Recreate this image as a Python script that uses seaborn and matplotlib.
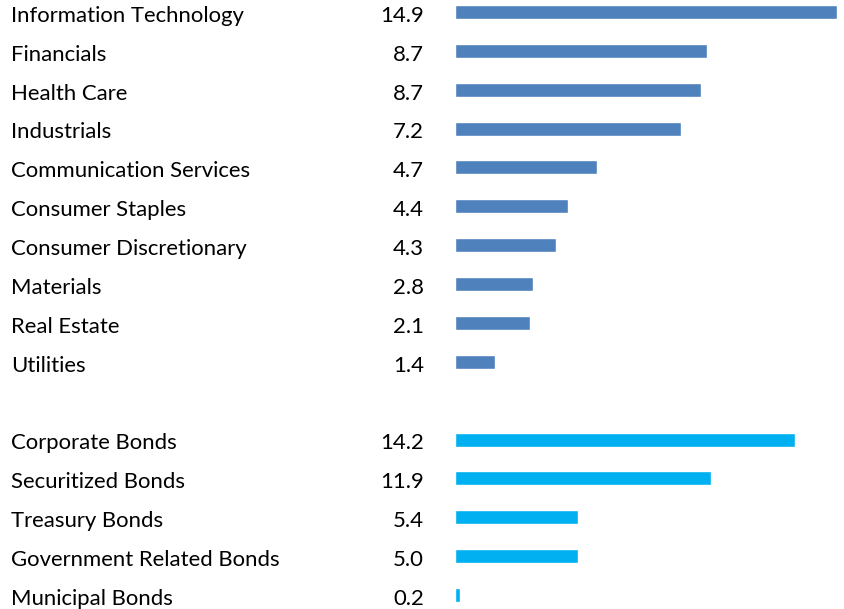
import pandas as pd
import matplotlib
matplotlib.use("Agg")
import matplotlib.pyplot as plt
import matplotlib.transforms as mtransforms
import seaborn as sns

sns.set_style("white")
plt.rcParams["font.family"] = ["Lato", "DejaVu Sans"]

equity_names = ["Information Technology", "Financials", "Health Care", "Industrials",
                "Communication Services", "Consumer Staples", "Consumer Discretionary",
                "Materials", "Real Estate", "Utilities"]
equity_labels = ["14.9", "8.7", "8.7", "7.2", "4.7", "4.4", "4.3", "2.8", "2.1", "1.4"]
# bar lengths as drawn (they do not follow the printed numbers exactly)
equity_bars = [14.9, 9.82, 9.60, 8.80, 5.53, 4.40, 3.95, 3.05, 2.93, 1.59]

bond_names = ["Corporate Bonds", "Securitized Bonds", "Treasury Bonds",
              "Government Related Bonds", "Municipal Bonds"]
bond_labels = ["14.2", "11.9", "5.4", "5.0", "0.2"]
bond_bars = [13.27, 9.98, 4.79, 4.79, 0.20]

blue = "#4F81BD"
cyan = "#00B0F0"

spacer = " "
order = equity_names + [spacer] + bond_names
df = pd.DataFrame({
    "name": equity_names + bond_names,
    "bar": equity_bars + bond_bars,
    "group": ["equity"] * len(equity_names) + ["bond"] * len(bond_names),
})

W, H = 844, 609
fig = plt.figure(figsize=(W / 100, H / 100), dpi=100)
x0, x1 = 454.5, 837.3
ax = fig.add_axes([x0 / W, 0, (x1 - x0) / W, 1])

sns.barplot(data=df, x="bar", y="name", hue="group", order=order,
            palette={"equity": blue, "bond": cyan}, dodge=False, orient="h",
            width=0.36, legend=False, ax=ax, saturation=1)

step = (595 - 12) / 15
ax.set_ylim((H - 12) / step, -12 / step)
ax.set_xlim(0, 14.9)
ax.axis("off")

trans = mtransforms.blended_transform_factory(fig.transFigure, ax.transData)
names = equity_names + [""] + bond_names
labels = equity_labels + [""] + bond_labels
for i, (n, l) in enumerate(zip(names, labels)):
    if not n:
        continue
    ax.text(11 / W, i + 0.1, n, transform=trans, ha="left", va="center",
            fontsize=15.9, color="#000000")
    ax.text(424 / W, i + 0.1, l, transform=trans, ha="right", va="center",
            fontsize=15.9, color="#000000")

fig.savefig("out.png", dpi=100, facecolor="white")
